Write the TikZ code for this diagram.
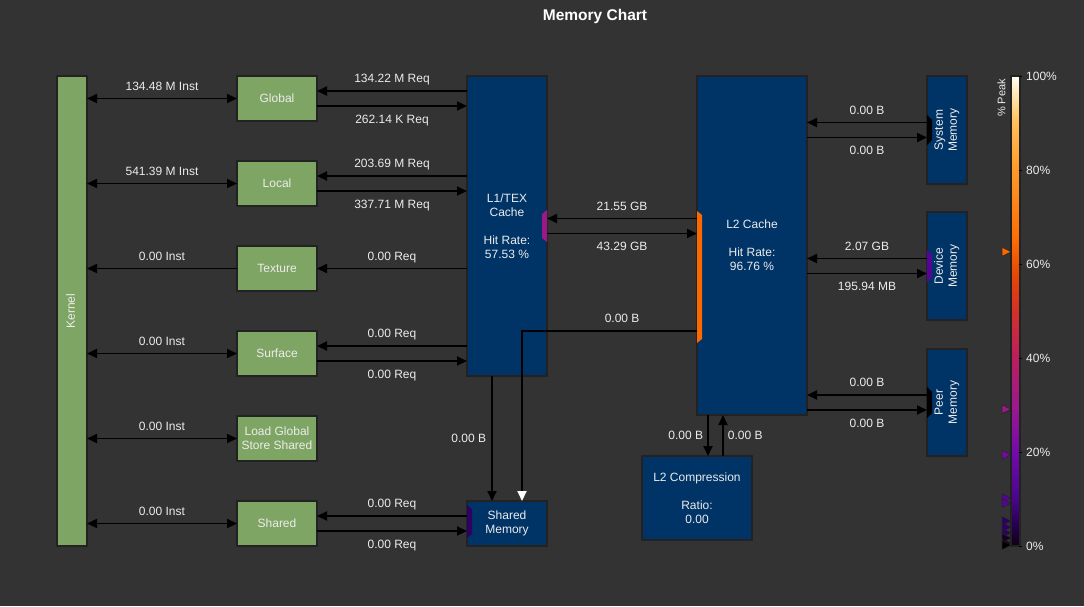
\documentclass[tikz,border=0pt]{standalone}
\usepackage{fontspec}
\setmainfont{Liberation Sans}
\usepackage{graphicx}
\usetikzlibrary{arrows.meta, positioning}

\definecolor{bgc}{RGB}{51,51,51}
\definecolor{kgreen}{RGB}{127,165,100}
\definecolor{navy}{RGB}{0,51,102}
\definecolor{rim}{RGB}{34,34,34}
\definecolor{txt}{RGB}{236,236,236}
\definecolor{pkor}{RGB}{252,104,0}
\definecolor{pkmg}{RGB}{155,25,135}
\definecolor{pkpu}{RGB}{115,10,165}
\definecolor{pkvi}{RGB}{85,5,150}
\definecolor{pkdk}{RGB}{45,0,100}
\definecolor{pkbk}{RGB}{18,0,30}

\pgfdeclareverticalshading{peak}{100bp}{%
  rgb(0bp)=(0.06,0,0.08); rgb(25bp)=(0.06,0,0.08);
  rgb(27.5bp)=(0.16,0,0.33); rgb(30bp)=(0.29,0.02,0.55);
  rgb(35bp)=(0.45,0.04,0.67); rgb(40bp)=(0.61,0.1,0.55);
  rgb(45bp)=(0.73,0.12,0.37); rgb(50bp)=(0.83,0.19,0.16);
  rgb(53.5bp)=(0.89,0.27,0.02); rgb(57.5bp)=(0.99,0.42,0.02);
  rgb(65bp)=(1,0.6,0.16); rgb(70bp)=(1,0.75,0.35);
  rgb(73.5bp)=(1,0.92,0.75); rgb(75bp)=(1,1,0.98); rgb(100bp)=(1,1,0.98)}

\newcommand{\chartfont}{\fontsize{12}{14}\selectfont}
\newcommand{\vtext}[1]{\rotatebox{90}{\begin{tabular}{@{}c@{}}#1\end{tabular}}}

\begin{document}
\begin{tikzpicture}[
      x=1pt, y=-1pt,
      unit/.style={draw=rim, line width=2pt, fill=kgreen, text=txt, font=\chartfont,
        align=center, minimum width=80pt, minimum height=45pt, inner sep=0pt, outer sep=0pt},
      cache/.style={unit, fill=navy},
      mem/.style={cache, minimum width=40pt, minimum height=108pt},
      val/.style={text=txt, font=\chartfont, inner sep=0pt, text height=8.6pt, text depth=0pt},
      link/.style={-{Triangle[length=10pt, width=9pt]}, line width=1.8pt, black},
      dlink/.style={link, {Triangle[length=10pt, width=9pt]}-{Triangle[length=10pt, width=9pt]}},
      wlink/.style={link, -{Triangle[length=10pt, width=9pt, color=white]}}
    ]
    \fill[bgc] (0,0) rectangle (1084,606);
    \node[text=white, font=\bfseries\fontsize{15.5}{18}\selectfont] (title) at (595,16) {Memory Chart};

    % units
    \node[unit, minimum width=30pt, minimum height=470pt] (kern) at (72,311) {\vtext{Kernel}};
    \node[unit] (glob) at (277,98.5) {Global};
    \node[unit, below=40pt of glob] (loc) {Local};
    \node[unit, below=40pt of loc] (tex) {Texture};
    \node[unit, below=40pt of tex] (surf) {Surface};
    \node[unit, below=40pt of surf] (ldgsts) {Load Global\\Store Shared};
    \node[unit, below=40pt of ldgsts] (shrd) {Shared};

    % caches and memories
    \node[cache, minimum height=300pt] (l1) at (507,226) {L1/TEX\\Cache\\[14pt]Hit Rate:\\57.53 \%};
    \node[cache] (shmem) at (507,523.5) {Shared\\Memory};
    \node[cache, minimum width=110pt, minimum height=339pt] (l2) at (752,245.5) {L2 Cache\\[14pt]Hit Rate:\\96.76 \%};
    \node[cache, minimum width=110pt, minimum height=84pt] (l2c) at (697,498) {L2 Compression\\[14pt]Ratio:\\0.00};
    \node[mem] (sysm) at (947,130) {\vtext{System\\Memory}};
    \node[mem] (devm) at (947,266) {\vtext{Device\\Memory}};
    \node[mem, minimum height=107pt] (peer) at (947,402.5) {\vtext{Peer\\Memory}};

    % ports
    \fill[pkmg] ([yshift=16pt]l1.east) -- ++(-5,4) -- ++(0,24) -- ++(5,4) -- cycle;
    \fill[pkor] ([yshift=34.5pt]l2.west) -- ++(5,4) -- ++(0,124) -- ++(-5,4) -- cycle;
    \fill[pkdk] ([yshift=18.5pt]shmem.west) -- ++(5,4) -- ++(0,25) -- ++(-5,4) -- cycle;
    \fill[black] ([yshift=15pt]sysm.west) -- ++(5,5) -- ++(0,20) -- ++(-5,5) -- cycle;
    \fill[pkvi] ([yshift=16pt]devm.west) -- ++(5,5) -- ++(0,22) -- ++(-5,5) -- cycle;
    \fill[black] ([yshift=15.5pt]peer.west) -- ++(5,5) -- ++(0,21) -- ++(-5,5) -- cycle;

    % kernel <-> units
    \foreach \u/\n in {glob/134.48 M Inst, loc/541.39 M Inst, surf/0.00 Inst, ldgsts/0.00 Inst, shrd/0.00 Inst}
      \draw[dlink] (kern.east |- \u) -- (\u.west) node[val, midway, above=7.5pt] {\n};
    \draw[link] (tex.west) -- (kern.east |- tex) node[val, midway, above=7.5pt] {0.00 Inst};

    % units <-> L1
    \foreach \u/\rin/\rout in {glob/134.22 M Req/262.14 K Req, loc/203.69 M Req/337.71 M Req, surf/0.00 Req/0.00 Req}{
      \draw[link] ([yshift=7.5pt]\u.east -| l1.west) -- ([yshift=7.5pt]\u.east) node[val, midway, above=7.5pt] {\rin};
      \draw[link] ([yshift=-7.5pt]\u.east) -- ([yshift=-7.5pt]\u.east -| l1.west) node[val, midway, below=7.5pt] {\rout};
    }
    \draw[link] (tex.east -| l1.west) -- (tex.east) node[val, midway, above=7.5pt] {0.00 Req};
    \draw[link] ([yshift=7.5pt]shrd.east -| shmem.west) -- ([yshift=7.5pt]shrd.east) node[val, midway, above=7.5pt] {0.00 Req};
    \draw[link] ([yshift=-7.5pt]shrd.east) -- ([yshift=-7.5pt]shrd.east -| shmem.west) node[val, midway, below=7.5pt] {0.00 Req};

    % L1 <-> L2
    \draw[link] ([yshift=7.5pt]l1.east -| l2.west) -- ([yshift=7.5pt]l1.east) node[val, midway, above=7.5pt] {21.55 GB};
    \draw[link] ([yshift=-7.5pt]l1.east) -- ([yshift=-7.5pt]l1.east -| l2.west) node[val, midway, below=7.5pt] {43.29 GB};
    \draw[link] ([xshift=-15pt]l1.south) -- ([xshift=-15pt]shmem.north) node[val, midway, left=5pt] {0.00 B};
    \draw[wlink] ([yshift=-85.5pt]l2.west) -| ([xshift=15pt]shmem.north) node[val, pos=0.214, above=7.5pt] {0.00 B};

    % L2 <-> compression
    \draw[link] ([xshift=11pt]l2c.north |- l2.south) -- ([xshift=11pt]l2c.north) node[val, midway, left=4pt] {0.00 B};
    \draw[link] ([xshift=26pt]l2c.north) -- ([xshift=26pt]l2c.north |- l2.south) node[val, midway, right=4pt] {0.00 B};

    % L2 <-> memories
    \foreach \m/\rin/\rout in {sysm/0.00 B/0.00 B, devm/2.07 GB/195.94 MB, peer/0.00 B/0.00 B}{
      \draw[link] ([yshift=7.5pt]\m.west) -- ([yshift=7.5pt]\m.west -| l2.east) node[val, midway, above=7.5pt] {\rin};
      \draw[link] ([yshift=-7.5pt]\m.west -| l2.east) -- ([yshift=-7.5pt]\m.west) node[val, midway, below=7.5pt] {\rout};
    }

    % peak scale
    \node[shade, shading=peak, draw=rim, line width=2pt, minimum width=9pt, minimum height=470pt,
      inner sep=0pt, outer sep=0pt] (bar) at (1015.5,311) {};
    \node[val, rotate=90, font=\fontsize{11}{13}\selectfont] (pklbl) at (1001,98) {\% Peak};
    \foreach \p in {0,20,...,100}{
      \draw[black, line width=1pt] ([yshift={4.7pt*\p}, xshift=-1.5pt]bar.south east) -- ++(3,0);
      \node[val, anchor=west] at ([yshift={4.7pt*\p}, xshift=6pt]bar.south east) {\p\%};
    }
    \foreach \p/\mc in {62.6/pkor, 29.1/pkmg, 19.4/pkpu, 10.2/pkvi, 9.1/pkvi, 5.3/pkdk, 4.0/pkdk, 2.8/pkdk, 1.7/pkbk, 0.6/pkbk, 0.2/black}
      \filldraw[fill=\mc, draw=rim, line width=.5pt] ([yshift={4.7pt*\p}]bar.south west) -- ++(-9,-4.5) -- ++(0,9) -- cycle;
    \end{tikzpicture}
\end{document}
